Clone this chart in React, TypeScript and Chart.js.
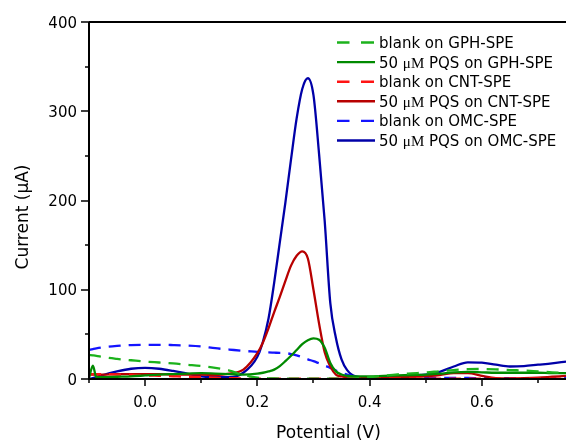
import React, { useEffect, useRef } from "react";
import { Chart, registerables } from "chart.js";

Chart.register(...registerables);

// Potential (V)
const potentials = [
  -0.1, -0.093, -0.087, -0.075, -0.05, -0.025, 0, 0.025, 0.05, 0.075, 0.1, 0.125, 0.15, 0.175,
  0.2, 0.21, 0.22, 0.23, 0.24, 0.25, 0.26, 0.27, 0.28, 0.29, 0.3, 0.31, 0.32, 0.33, 0.34, 0.35,
  0.36, 0.375, 0.4, 0.425, 0.45, 0.475, 0.5, 0.525, 0.55, 0.575, 0.6, 0.625, 0.65, 0.675, 0.7,
  0.725, 0.75,
];

// Current (µA)
const gphBlank = [
  27, 26.5, 26, 24.5, 22.5, 21, 19.5, 18.5, 17.5, 16, 14.5, 12.5, 9.5, 4.5,
  1.5, 1, 0.8, 0.6, 0.5, 0.5, 0.5, 0.5, 0.5, 0.5, 0.5, 0.5, 0.5, 0.5, 0.5, 0.5,
  0.5, 0.8, 2, 3.7, 5.2, 6.3, 7.3, 8.7, 10, 11, 11.2, 10.8, 10, 9.5, 8.5,
  7.5, 7,
];
const gphPqs = [
  1, 15, 2, 2, 2.5, 3, 4, 5, 5.5, 6, 6.5, 6, 5.5, 5,
  6, 7, 8.5, 10.5, 14.5, 20, 26, 32.5, 39, 43.5, 45.5, 44, 35, 18, 8.5, 5,
  3.5, 3, 3, 3.5, 4, 4.5, 5, 6, 7.5, 8, 7.5, 7, 7, 7, 7,
  6.5, 6.5,
];
const cntBlank = [
  5.5, 5.5, 5.5, 5.5, 5, 4.5, 4, 3.5, 3, 2.5, 2, 1.5, 1, 0.5,
  0.3, 0.3, 0.3, 0.3, 0.3, 0.3, 0.3, 0.3, 0.3, 0.3, 0.3, 0.3, 0.3, 0.3, 0.3, 0.3,
  0.3, 0.3, 0.3, 0.3, 0.3, 0.3, 0.3, 0.3, 0.3, 0.3, 0.3, 0.3, 0.3, 0.3, 0.3,
  0.3, 0.3,
];
const cntPqs = [
  5, 5, 5, 5, 5.5, 5.5, 5.5, 5.5, 5, 5, 5, 4.5, 6, 10.5,
  29, 41, 57, 75, 92, 110, 127, 138, 143, 135, 100, 62, 30, 14, 5, 3,
  2, 1.5, 1, 1.5, 2, 2.5, 3, 4.5, 6.5, 6.5, 3.5, 1, 0.8, 1, 1.5,
  2.5, 3.5,
];
const omcBlank = [
  32.5, 33.5, 34.3, 35.5, 37, 38, 38.3, 38.3, 38, 37.5, 36.5, 34.5, 33, 31.5,
  30.5, 30, 29.8, 29.5, 29.2, 29, 28, 26.5, 24.5, 22, 20, 17.5, 15, 12.5, 9.5, 7,
  5, 2.5, 1.5, 1.2, 1.2, 1.2, 1.2, 1.2, 1.1, 1.1, 1, 1, 1, 1, 1,
  1, 1,
];
const omcPqs = [
  0, 1, 2, 4.5, 8.5, 11.5, 12.5, 11.5, 9, 6, 3, 2, 2, 7,
  25, 42, 68, 108, 153, 198, 246, 292, 325, 337, 318, 252, 177, 85, 46, 22,
  10, 3, 1.5, 2, 3, 4, 5, 8, 14, 18.7, 18.3, 16, 14, 14.5, 16,
  17.5, 19.5,
];

const seriesLabels = [
  "blank on GPH-SPE",
  "50 μM PQS on GPH-SPE",
  "blank on CNT-SPE",
  "50 μM PQS on CNT-SPE",
  "blank on OMC-SPE",
  "50 μM PQS on OMC-SPE",
];
const seriesValues = [gphBlank, gphPqs, cntBlank, cntPqs, omcBlank, omcPqs];
const seriesColors = ["#1cb21c", "#008a00", "#ff1414", "#b80000", "#1414ff", "#0000a8"];
const seriesDashed = [true, false, true, false, true, false];

const xMajorTicks = [0, 0.2, 0.4, 0.6];
const xMinorTicks = [-0.1, 0.1, 0.3, 0.5, 0.7];
const yMajorTicks = [0, 100, 200, 300, 400];
const yMinorTicks = [50, 150, 250, 350];

const xTitle = "Potential (V)";
const yTitle = "Current (μA)";

const SANS = "'DejaVu Sans', sans-serif";
const SERIF = "'Liberation Serif', serif";

function drawRichText(ctx: CanvasRenderingContext2D, text: string, x: number, y: number, size: number) {
  const parts = text.split("μM");
  let cx = x;
  parts.forEach((p, i) => {
    ctx.font = `${size}px ${SANS}`;
    ctx.fillText(p, cx, y);
    cx += ctx.measureText(p).width;
    if (i < parts.length - 1) {
      ctx.font = `${size}px ${SERIF}`;
      ctx.fillText("μM", cx, y);
      cx += ctx.measureText("μM").width;
    }
  });
}

const axesPlugin = {
  id: "axesPlugin",
  afterDraw(chart: any) {
    const ctx: CanvasRenderingContext2D = chart.ctx;
    const { left, top, right, bottom } = chart.chartArea;
    const xs = chart.scales.x;
    const ys = chart.scales.y;
    ctx.save();
    ctx.strokeStyle = "#000";
    ctx.fillStyle = "#000";
    ctx.lineWidth = 2;
    ctx.setLineDash([]);
    ctx.beginPath();
    ctx.moveTo(left, top);
    ctx.lineTo(left, bottom);
    ctx.lineTo(right, bottom);
    ctx.moveTo(left, top);
    ctx.lineTo(right, top);
    ctx.stroke();

    ctx.lineWidth = 1.5;
    ctx.beginPath();
    yMajorTicks.forEach((v) => {
      const p = Math.round(ys.getPixelForValue(v));
      ctx.moveTo(left - 8, p);
      ctx.lineTo(left, p);
    });
    yMinorTicks.forEach((v) => {
      const p = Math.round(ys.getPixelForValue(v));
      ctx.moveTo(left - 4, p);
      ctx.lineTo(left, p);
    });
    xMajorTicks.forEach((v) => {
      const p = Math.round(xs.getPixelForValue(v));
      ctx.moveTo(p, bottom);
      ctx.lineTo(p, bottom + 7);
    });
    xMinorTicks.forEach((v) => {
      const p = Math.round(xs.getPixelForValue(v));
      ctx.moveTo(p, bottom);
      ctx.lineTo(p, bottom + 4);
    });
    ctx.stroke();

    ctx.font = `15px ${SANS}`;
    ctx.textBaseline = "alphabetic";
    ctx.textAlign = "right";
    yMajorTicks.forEach((v) => {
      const p = ys.getPixelForValue(v);
      ctx.fillText(String(v), left - 12, p + 5.5);
    });
    ctx.textAlign = "center";
    xMajorTicks.forEach((v) => {
      const p = xs.getPixelForValue(v);
      ctx.fillText(v.toFixed(1), p, bottom + 27.5);
    });

    ctx.font = `17px ${SANS}`;
    ctx.textAlign = "center";
    ctx.fillText(xTitle, (left + right) / 2 + 1, 438);
    ctx.save();
    ctx.translate(28, 217);
    ctx.rotate(-Math.PI / 2);
    ctx.fillText(yTitle, 0, 0);
    ctx.restore();

    // legend
    ctx.textAlign = "left";
    seriesLabels.forEach((label, i) => {
      const y = 42.5 + i * 19.6;
      ctx.strokeStyle = seriesColors[i];
      ctx.lineWidth = 2.4;
      ctx.beginPath();
      if (seriesDashed[i]) {
        ctx.moveTo(337, y);
        ctx.lineTo(349.5, y);
        ctx.moveTo(361, y);
        ctx.lineTo(374, y);
      } else {
        ctx.moveTo(337, y);
        ctx.lineTo(375, y);
      }
      ctx.stroke();
      ctx.fillStyle = "#000";
      drawRichText(ctx, label, 379, y + 5.5, 15);
    });
    ctx.restore();
  },
};

export default function App() {
  const ref = useRef<HTMLCanvasElement | null>(null);
  useEffect(() => {
    if (!ref.current) return;
    const chart = new Chart(ref.current, {
      type: "line",
      data: {
        datasets: seriesLabels.map((label, i) => ({
          label,
          data: potentials.map((x, j) => ({ x, y: seriesValues[i][j] })),
          borderColor: seriesColors[i],
          backgroundColor: seriesColors[i],
          borderWidth: 2.3,
          borderDash: seriesDashed[i] ? [12, 8] : [],
          pointRadius: 0,
          fill: false,
          cubicInterpolationMode: "monotone" as const,
        })),
      },
      options: {
        responsive: false,
        animation: false,
        devicePixelRatio: 1,
        layout: { padding: { left: 89, top: 22, right: 0, bottom: 65 } },
        scales: {
          x: { type: "linear", min: -0.1, max: 0.75, display: false },
          y: { type: "linear", min: 0, max: 400, display: false },
        },
        plugins: {
          legend: { display: false },
          tooltip: { enabled: false },
        },
      },
      plugins: [axesPlugin],
    });
    return () => chart.destroy();
  }, []);
  return (
    <canvas
      ref={ref}
      width={566}
      height={444}
      style={{ position: "absolute", left: 0, top: 0, width: 566, height: 444, background: "#fff" }}
    />
  );
}
